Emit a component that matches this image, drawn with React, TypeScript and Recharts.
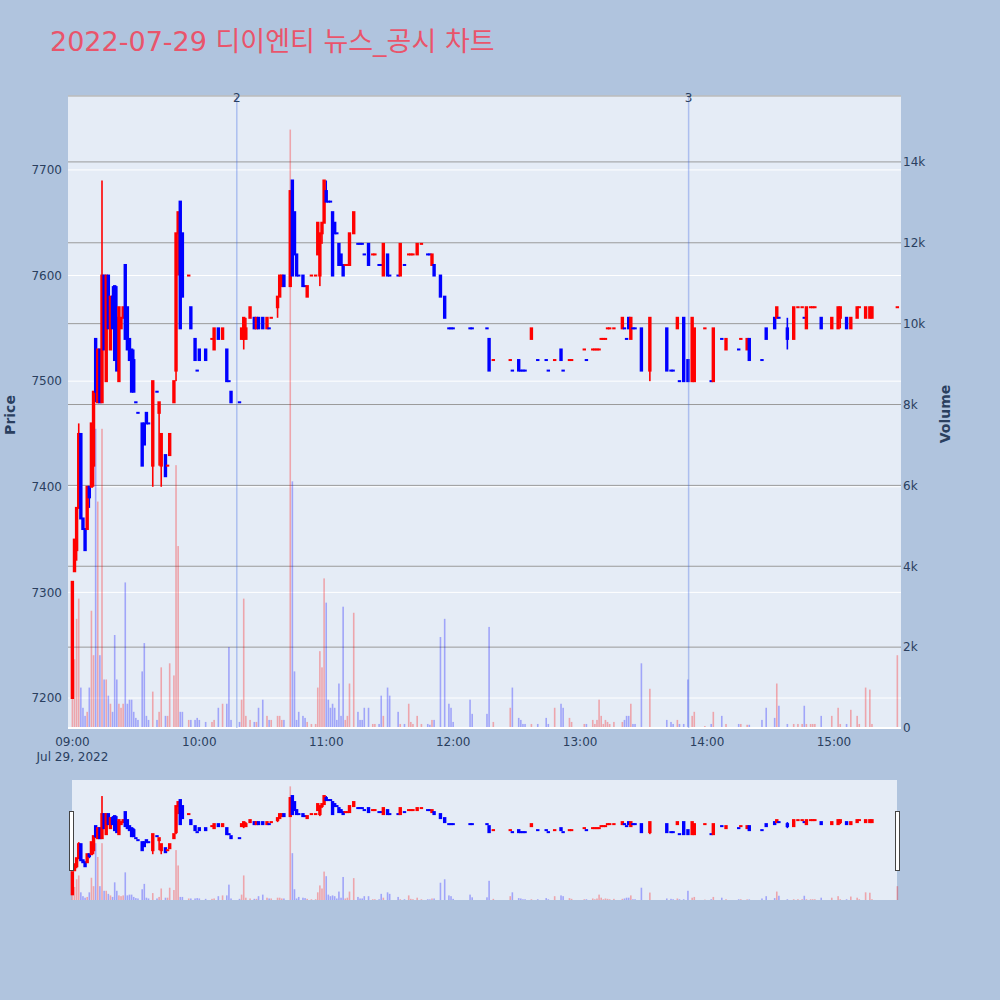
import React from "react";
import { ComposedChart, Bar, XAxis, YAxis, CartesianGrid, ReferenceLine } from "recharts";

// minutes after 09:00, one candle per traded minute
const minutes = [
  0, 1, 2, 3, 4, 5, 6, 7, 8, 9, 10, 11, 12, 13, 14, 15, 16, 17, 18, 19, 20, 21, 22, 23, 24, 25, 26, 27, 28, 29, 30, 31, 33, 34, 35, 36, 38, 40, 41, 42, 44, 45, 46, 48, 49, 50, 51, 52, 55, 56, 58, 59, 60, 63, 66, 67, 69, 71, 73, 74, 75, 79,
  80, 81, 82, 84, 86, 87, 88, 90, 92, 93, 94, 97, 98, 99, 100, 103, 104, 105, 106, 107, 109, 110, 111, 113, 115, 116, 117, 118, 119, 120, 121, 122, 123, 124, 125, 126, 127, 128, 129, 130, 131, 133, 135, 136, 137, 138, 140, 142, 143, 145, 146, 147, 149, 150, 154, 155, 157, 159, 160, 161, 163, 165, 168, 169, 170, 171, 174, 176, 178, 179, 180,
  188, 189, 196, 197, 199, 207, 208, 211, 212, 213, 214, 217, 220, 224, 225, 228, 231, 232, 235, 236, 242, 243, 246, 247, 248, 249, 250, 251, 252, 253, 254, 256, 260, 261, 262, 263, 264, 265, 266, 269, 273, 281, 283, 284, 286, 287, 289, 291, 293, 294, 299,
  302, 303, 307, 309, 315, 316, 319, 320, 326, 328, 332, 333, 334, 338, 341, 343, 345, 346, 347, 349, 350, 351, 354, 359, 362, 363, 366, 368, 371, 372, 375, 377, 378, 390,
];
const opens = [
  7200, 7320, 7340, 7380, 7450, 7370, 7360, 7360, 7400, 7400, 7420, 7540, 7480, 7530, 7480, 7600, 7500, 7600, 7530, 7580, 7590, 7560, 7500, 7550, 7560, 7610, 7570, 7540, 7530, 7520, 7480, 7470, 7460, 7460, 7470, 7460, 7420, 7490, 7470, 7420, 7430, 7420, 7430, 7480, 7510, 7640, 7670, 7640, 7600, 7570, 7540, 7510, 7530, 7530, 7540, 7530, 7550, 7540, 7530, 7500, 7490, 7480,
  7540, 7540, 7540, 7560, 7560, 7550, 7560, 7560, 7550, 7550, 7560, 7570, 7580, 7590, 7600, 7590, 7690, 7660, 7620, 7600, 7600, 7590, 7580, 7600, 7600, 7620, 7600, 7640, 7650, 7680, 7670, 7670, 7660, 7650, 7640, 7630, 7620, 7610, 7610, 7610, 7610, 7640, 7630, 7630, 7630, 7620, 7630, 7620, 7620, 7610, 7610, 7600, 7620, 7600, 7600, 7600, 7610, 7620, 7620, 7620, 7620, 7630, 7620, 7620, 7610, 7610, 7600, 7580, 7550, 7550, 7550,
  7550, 7550, 7550, 7540, 7520, 7520, 7510, 7520, 7510, 7510, 7510, 7540, 7520, 7520, 7510, 7520, 7530, 7510, 7520, 7520, 7530, 7520, 7530, 7530, 7530, 7530, 7540, 7540, 7540, 7550, 7550, 7550, 7550, 7550, 7540, 7560, 7540, 7550, 7550, 7550, 7510, 7550, 7510, 7510, 7550, 7500, 7560, 7520, 7500, 7500, 7550,
  7500, 7500, 7540, 7530, 7530, 7540, 7530, 7540, 7520, 7550, 7560, 7560, 7560, 7550, 7540, 7570, 7570, 7560, 7550, 7570, 7570, 7570, 7560, 7550, 7550, 7560, 7560, 7550, 7560, 7570, 7560, 7560, 7560, 7570,
];
const highs = [
  7310, 7350, 7380, 7460, 7450, 7370, 7360, 7400, 7400, 7460, 7490, 7540, 7530, 7530, 7690, 7600, 7600, 7600, 7580, 7590, 7590, 7590, 7570, 7560, 7570, 7610, 7570, 7540, 7530, 7530, 7480, 7470, 7460, 7460, 7470, 7460, 7500, 7490, 7480, 7450, 7430, 7420, 7450, 7500, 7640, 7660, 7670, 7640, 7600, 7570, 7540, 7510, 7530, 7530, 7540, 7550, 7550, 7550, 7530, 7500, 7490, 7480,
  7550, 7560, 7560, 7570, 7560, 7560, 7560, 7560, 7560, 7550, 7560, 7580, 7600, 7600, 7600, 7680, 7690, 7660, 7620, 7600, 7600, 7590, 7590, 7600, 7600, 7650, 7640, 7650, 7690, 7690, 7670, 7670, 7660, 7650, 7640, 7630, 7620, 7610, 7610, 7610, 7640, 7660, 7630, 7630, 7630, 7620, 7630, 7620, 7620, 7610, 7610, 7630, 7620, 7600, 7600, 7630, 7610, 7620, 7620, 7620, 7630, 7630, 7620, 7620, 7620, 7610, 7600, 7580, 7550, 7550, 7550,
  7550, 7550, 7550, 7540, 7520, 7520, 7510, 7520, 7510, 7510, 7510, 7550, 7520, 7520, 7510, 7520, 7530, 7510, 7520, 7520, 7530, 7520, 7530, 7530, 7530, 7530, 7540, 7540, 7540, 7550, 7550, 7550, 7560, 7550, 7540, 7560, 7560, 7550, 7550, 7550, 7560, 7550, 7510, 7510, 7560, 7500, 7560, 7520, 7560, 7550, 7550,
  7500, 7550, 7540, 7540, 7530, 7540, 7540, 7540, 7520, 7550, 7560, 7570, 7560, 7560, 7570, 7570, 7570, 7560, 7570, 7570, 7570, 7570, 7560, 7560, 7570, 7570, 7560, 7560, 7570, 7570, 7570, 7570, 7570, 7570,
];
const lows = [
  7200, 7320, 7330, 7380, 7370, 7360, 7340, 7360, 7380, 7400, 7400, 7480, 7480, 7480, 7480, 7530, 7500, 7550, 7530, 7550, 7520, 7510, 7500, 7550, 7560, 7540, 7530, 7520, 7490, 7490, 7480, 7470, 7420, 7440, 7460, 7460, 7400, 7490, 7420, 7400, 7410, 7420, 7430, 7480, 7500, 7600, 7550, 7580, 7600, 7550, 7520, 7510, 7520, 7520, 7540, 7530, 7540, 7540, 7500, 7500, 7480, 7480,
  7540, 7530, 7540, 7560, 7550, 7550, 7550, 7550, 7550, 7550, 7560, 7560, 7580, 7590, 7590, 7590, 7600, 7620, 7600, 7600, 7590, 7590, 7580, 7600, 7600, 7620, 7590, 7630, 7650, 7670, 7670, 7670, 7600, 7640, 7640, 7610, 7610, 7600, 7610, 7610, 7610, 7640, 7630, 7630, 7630, 7620, 7610, 7620, 7620, 7610, 7610, 7600, 7600, 7600, 7600, 7600, 7610, 7620, 7620, 7620, 7620, 7630, 7620, 7620, 7610, 7600, 7580, 7560, 7550, 7550, 7550,
  7550, 7550, 7550, 7510, 7520, 7520, 7510, 7510, 7510, 7510, 7510, 7540, 7520, 7520, 7510, 7520, 7520, 7510, 7520, 7520, 7530, 7520, 7530, 7530, 7530, 7530, 7540, 7540, 7540, 7550, 7550, 7550, 7550, 7550, 7540, 7550, 7540, 7550, 7550, 7510, 7500, 7510, 7510, 7510, 7550, 7500, 7500, 7500, 7500, 7500, 7550,
  7500, 7500, 7540, 7530, 7530, 7540, 7530, 7520, 7520, 7540, 7550, 7560, 7560, 7530, 7540, 7570, 7570, 7560, 7550, 7570, 7570, 7570, 7550, 7550, 7550, 7550, 7550, 7550, 7560, 7570, 7560, 7560, 7560, 7570,
];
const closes = [
  7310, 7350, 7380, 7450, 7370, 7360, 7340, 7400, 7390, 7460, 7490, 7490, 7530, 7480, 7600, 7530, 7600, 7550, 7580, 7550, 7520, 7510, 7570, 7560, 7570, 7540, 7530, 7520, 7490, 7490, 7480, 7470, 7420, 7440, 7460, 7460, 7500, 7490, 7480, 7450, 7410, 7420, 7450, 7500, 7640, 7660, 7550, 7580, 7600, 7550, 7520, 7510, 7520, 7520, 7540, 7550, 7540, 7550, 7500, 7500, 7480, 7480,
  7550, 7560, 7550, 7570, 7550, 7560, 7550, 7550, 7560, 7550, 7560, 7580, 7600, 7600, 7590, 7680, 7600, 7620, 7600, 7600, 7590, 7590, 7590, 7600, 7600, 7650, 7640, 7650, 7690, 7670, 7670, 7670, 7600, 7640, 7640, 7610, 7610, 7600, 7610, 7610, 7640, 7660, 7630, 7630, 7630, 7620, 7610, 7620, 7620, 7610, 7610, 7630, 7600, 7600, 7600, 7630, 7610, 7620, 7620, 7620, 7630, 7630, 7620, 7620, 7620, 7600, 7580, 7560, 7550, 7550, 7550,
  7550, 7550, 7550, 7510, 7520, 7520, 7510, 7510, 7510, 7510, 7510, 7550, 7520, 7520, 7510, 7520, 7520, 7510, 7520, 7520, 7530, 7520, 7530, 7530, 7530, 7530, 7540, 7540, 7540, 7550, 7550, 7550, 7560, 7550, 7540, 7550, 7560, 7550, 7550, 7510, 7560, 7510, 7510, 7510, 7560, 7500, 7500, 7500, 7560, 7550, 7550,
  7500, 7550, 7540, 7540, 7530, 7540, 7540, 7520, 7520, 7540, 7550, 7570, 7560, 7540, 7570, 7570, 7570, 7560, 7570, 7570, 7570, 7570, 7550, 7560, 7570, 7570, 7550, 7560, 7570, 7570, 7570, 7570, 7570, 7570,
];
const volumes = [
  3000, 1700, 2700, 3200, 1000, 500, 300, 400, 1000, 2900, 1800, 7400, 5600, 1800, 7400, 1200, 1200, 800, 600, 400, 2300, 1200, 600, 500, 600, 3600, 600, 700, 700, 400, 250, 200, 1400, 2100, 300, 200, 900, 200, 400, 1500, 300, 300, 1600, 1300, 6500, 4500, 400, 400, 200, 200, 200, 250, 200, 150, 150, 200, 500, 600, 600, 2000, 200, 150,
  700, 3200, 300, 200, 150, 150, 500, 700, 300, 200, 200, 300, 300, 200, 200, 14800, 6100, 1400, 200, 400, 300, 250, 150, 100, 100, 1000, 1900, 1500, 3700, 3100, 700, 500, 600, 500, 200, 1100, 300, 3000, 200, 300, 1100, 2850, 400, 200, 200, 500, 500, 100, 100, 100, 800, 300, 1000, 800, 400, 100, 100, 600, 150, 100, 300, 100, 100, 80, 200, 200, 2250, 2700, 600, 500, 150,
  700, 350, 350, 2500, 150, 500, 1000, 250, 200, 100, 100, 100, 100, 250, 100, 500, 600, 500, 250, 150, 100, 100, 200, 100, 200, 700, 300, 100, 200, 150, 100, 150, 150, 200, 300, 300, 600, 100, 100, 1600, 970, 200, 150, 100, 200, 100, 100, 1200, 300, 400, 50,
  100, 400, 300, 100, 100, 100, 80, 80, 200, 500, 250, 1100, 550, 100, 100, 100, 100, 550, 100, 100, 100, 100, 300, 300, 500, 100, 100, 450, 300, 100, 1000, 950, 100, 1800,
];

const timeTicks = [0, 60, 120, 180, 240, 300, 360];
const timeLabels = ["09:00", "10:00", "11:00", "12:00", "13:00", "14:00", "15:00"];
const priceTicks = [7200, 7300, 7400, 7500, 7600, 7700];
const volumeTicks = [0, 2000, 4000, 6000, 8000, 10000, 12000, 14000];
const volumeLabels = ["0", "2k", "4k", "6k", "8k", "10k", "12k", "14k"];
const eventMinutes = [77.7, 291.3];
const eventLabels = ["2", "3"];

const UP = "#ff0000";
const DOWN = "#0000ff";
const FONT = '"DejaVu Sans", "Noto Sans CJK KR", Verdana, sans-serif';
const INK = "#2a3f5f";

type Row = { m: number; o: number; h: number; l: number; c: number; v: number; up: boolean };

// plotly-like colouring: a flat candle takes its direction from the previous close
const rows: Row[] = [];
minutes.forEach((m, i) => {
  const o = opens[i], c = closes[i];
  const prev = rows[rows.length - 1];
  const prevClose = prev ? prev.c : o;
  const up = c > o ? true : c < o ? false : c > prevClose ? true : c < prevClose ? false : prev ? prev.up : true;
  rows.push({ m, o, h: highs[i], l: lows[i], c, v: volumes[i], up });
});

const xDomain = [-2.1, 391.7];
const priceDomain = [7171.6, 7770];
const volDomain = [0, 15630];

const Wick = (props: any) => {
  const { x, y, width, height, payload } = props;
  if (x == null || y == null || !payload) return null;
  const cx = x + width / 2;
  const top = Math.min(y, y + height);
  const h = Math.abs(height);
  return <rect x={cx - 0.8} y={top} width={1.6} height={h} fill={payload.up ? UP : DOWN} />;
};

const Body = (props: any) => {
  const { x, y, width, height, payload } = props;
  if (x == null || y == null || !payload) return null;
  const cx = x + width / 2;
  const top = Math.min(y, y + height);
  const h = Math.abs(height);
  return (
    <rect
      x={cx - 1.7}
      y={top - 1}
      width={3.4}
      height={h + 2}
      fill={payload.up ? UP : DOWN}
    />
  );
};

const Vol = (props: any) => {
  const { x, y, width, height, payload } = props;
  if (x == null || y == null || !payload) return null;
  const cx = x + width / 2;
  const top = Math.min(y, y + height);
  return (
    <rect
      x={cx - 0.8}
      y={top}
      width={1.6}
      height={Math.abs(height)}
      fill={payload.up ? UP : DOWN}
      fillOpacity={0.3}
    />
  );
};

const TimeTick = (props: any) => {
  const { x, y, payload, index } = props;
  const i = timeTicks.indexOf(payload.value);
  return (
    <g>
      <text x={x} y={y - 12} textAnchor="middle" fill={INK} fontSize={12} fontFamily={FONT}>
        {timeLabels[i]}
      </text>
      {index === 0 && (
        <text x={x} y={y + 3} textAnchor="middle" fill={INK} fontSize={12} fontFamily={FONT}>
          Jul 29, 2022
        </text>
      )}
    </g>
  );
};

export default function App() {
  const hiddenX = (id: string) => (
    <XAxis xAxisId={id} dataKey="m" type="number" domain={xDomain} allowDataOverflow hide />
  );
  return (
    <div
      style={{
        position: "absolute",
        left: 0,
        top: 0,
        width: 1000,
        height: 1000,
        background: "#b0c4de",
        fontFamily: FONT,
      }}
    >
      <svg width={1000} height={96} style={{ position: "absolute", left: 0, top: 0 }}>
        <text x={50} y={51} fill="#e9546b" fontSize={27} fontFamily={FONT}>
          2022-07-29 디이엔티 뉴스_공시 차트
        </text>
      </svg>

      <div style={{ position: "absolute", left: 0, top: 0 }}>
        <ComposedChart width={1000} height={780} data={rows} margin={{ top: 96, right: 0, bottom: 22, left: 0 }}>
          <CartesianGrid xAxisId="t" yAxisId="p" vertical={false} stroke="#ffffff" strokeWidth={1} fill="#e5ecf6" fillOpacity={1} />
          <CartesianGrid xAxisId="t" yAxisId="vol" vertical={false} stroke="#9a9a9a" strokeWidth={1} />
          <XAxis
            xAxisId="t"
            dataKey="m"
            type="number"
            domain={xDomain}
            allowDataOverflow
            ticks={timeTicks}
            interval={0}
            axisLine={false}
            tickLine={false}
            tickSize={0}
            tickMargin={0}
            height={30}
            tick={<TimeTick />}
          />
          {hiddenX("w")}
          {hiddenX("b")}
          {hiddenX("v")}
          <YAxis
            yAxisId="p"
            orientation="left"
            type="number"
            domain={priceDomain}
            allowDataOverflow
            ticks={priceTicks}
            interval={0}
            width={68}
            axisLine={false}
            tickLine={false}
            tickSize={4}
            tickMargin={2}
            tick={{ fill: INK, fontSize: 12, fontFamily: FONT }}
          />
          <YAxis
            yAxisId="vol"
            orientation="right"
            type="number"
            domain={volDomain}
            allowDataOverflow
            ticks={volumeTicks}
            interval={0}
            width={99}
            axisLine={false}
            tickLine={false}
            tickSize={2}
            tickMargin={0}
            tickFormatter={(v: number) => volumeLabels[volumeTicks.indexOf(v)]}
            tick={{ fill: INK, fontSize: 12, fontFamily: FONT }}
          />
          <ReferenceLine xAxisId="t" yAxisId="vol" y={0} stroke="#ffffff" strokeWidth={2} />
          <Bar xAxisId="v" yAxisId="vol" dataKey="v" barSize={2} shape={<Vol />} isAnimationActive={false} />
          <Bar xAxisId="w" yAxisId="p" dataKey={(d: Row) => [d.l, d.h]} barSize={2} shape={<Wick />} isAnimationActive={false} />
          <Bar xAxisId="b" yAxisId="p" dataKey={(d: Row) => [Math.min(d.o, d.c), Math.max(d.o, d.c)]} barSize={2} shape={<Body />} isAnimationActive={false} />
          {eventMinutes.map((m, i) => (
            <ReferenceLine
              key={eventLabels[i]}
              xAxisId="t"
              yAxisId="p"
              x={m}
              stroke="#4169e1"
              strokeOpacity={0.35}
              strokeWidth={1.5}
              label={{ value: eventLabels[i], position: "top", offset: -6, fill: INK, fontSize: 12, fontFamily: FONT }}
            />
          ))}
        </ComposedChart>
      </div>

      <svg width={1000} height={1000} style={{ position: "absolute", left: 0, top: 0, pointerEvents: "none" }}>
        <text x={10} y={415} transform="rotate(-90 10 415)" textAnchor="middle" dominantBaseline="central" fill={INK} fontSize={14} fontWeight="bold" fontFamily={FONT}>
          Price
        </text>
        <text x={945} y={414} transform="rotate(-90 945 414)" textAnchor="middle" dominantBaseline="central" fill={INK} fontSize={14} fontWeight="bold" fontFamily={FONT}>
          Volume
        </text>
      </svg>

      {/* range slider */}
      <div style={{ position: "absolute", left: 72, top: 780, width: 825, height: 120, background: "#e5ecf6" }} />
      <div style={{ position: "absolute", left: 0, top: 780 }}>
        <ComposedChart width={1000} height={120} data={rows} margin={{ top: 0, right: 99, bottom: 0, left: 68 }}>
          {hiddenX("w")}
          {hiddenX("b")}
          {hiddenX("v")}
          <YAxis yAxisId="p" type="number" domain={priceDomain} allowDataOverflow hide />
          <YAxis yAxisId="vol" type="number" domain={volDomain} allowDataOverflow hide />
          <Bar xAxisId="v" yAxisId="vol" dataKey="v" barSize={2} shape={<Vol />} isAnimationActive={false} />
          <Bar xAxisId="w" yAxisId="p" dataKey={(d: Row) => [d.l, d.h]} barSize={2} shape={<Wick />} isAnimationActive={false} />
          <Bar xAxisId="b" yAxisId="p" dataKey={(d: Row) => [Math.min(d.o, d.c), Math.max(d.o, d.c)]} barSize={2} shape={<Body />} isAnimationActive={false} />
        </ComposedChart>
      </div>
      <div style={{ position: "absolute", left: 69, top: 811, width: 3, height: 58, background: "#ffffff", border: "1px solid #444" }} />
      <div style={{ position: "absolute", left: 895, top: 811, width: 3, height: 58, background: "#ffffff", border: "1px solid #444" }} />
    </div>
  );
}
